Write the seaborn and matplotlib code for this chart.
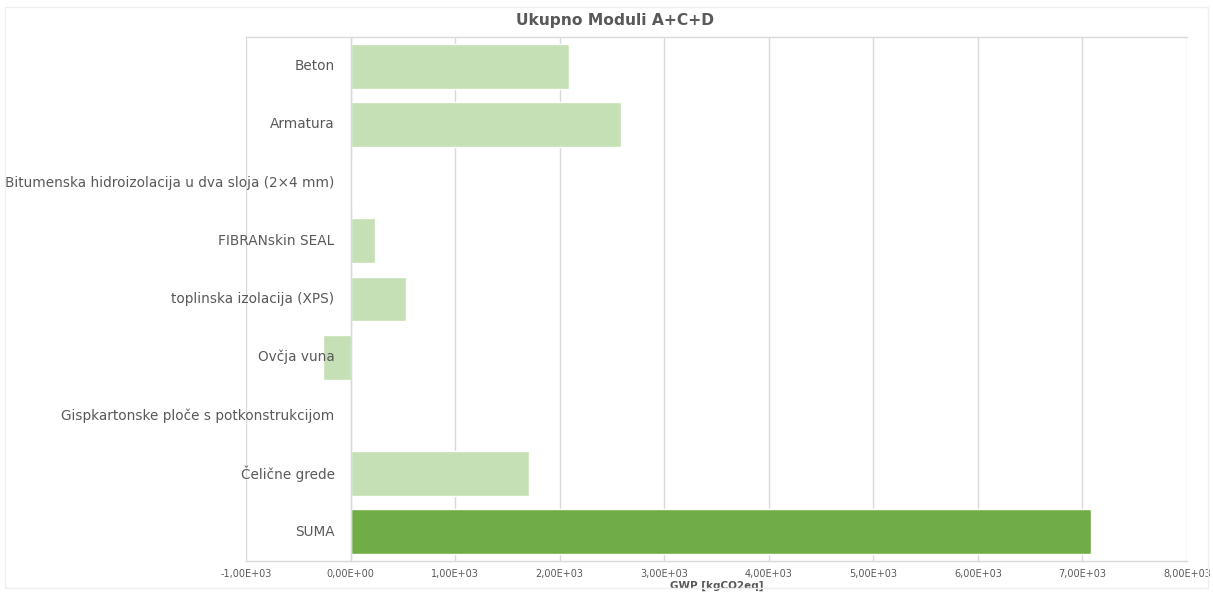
import matplotlib
matplotlib.use("Agg")
import matplotlib.pyplot as plt
import matplotlib.transforms as mtransforms
import seaborn as sns
from matplotlib.patches import Rectangle

# %% data
categories = [
    "Beton",
    "Armatura",
    "Bitumenska hidroizolacija u dva sloja (2×4 mm)",
    "FIBRANskin SEAL",
    "toplinska izolacija (XPS)",
    "Ovčja vuna",
    "Gispkartonske ploče s potkonstrukcijom",
    "Čelične grede",
    "SUMA",
]
gwp = [2094, 2588, 10, 236, 535, -261, 0, 1702, 7081]
bar_colors = ["#C5E0B4"] * 8 + ["#70AD47"]
x_ticks = [-1000, 0, 1000, 2000, 3000, 4000, 5000, 6000, 7000, 8000]
x_tick_labels = [
    "-1,00E+03", "0,00E+00", "1,00E+03", "2,00E+03", "3,00E+03",
    "4,00E+03", "5,00E+03", "6,00E+03", "7,00E+03", "8,00E+03",
]

# %% plot
sns.set_style("white")
plt.rcParams["font.family"] = ["DejaVu Sans"]

text_col = "#595959"
grid_col = "#D9D9D9"

fig = plt.figure(figsize=(12.13, 5.92), dpi=100)
ax = fig.add_axes([246 / 1213, 1 - 561 / 592, (1187 - 246) / 1213, (561 - 37) / 592])

sns.barplot(
    x=gwp,
    y=categories,
    hue=categories,
    palette=bar_colors,
    legend=False,
    width=0.77,
    saturation=1,
    orient="h",
    ax=ax,
)

ax.set_xlim(-1000, 8000)
ax.set_xticks(x_ticks)
ax.set_xticklabels(x_tick_labels)
ax.xaxis.grid(True, color=grid_col, linewidth=1)
ax.yaxis.grid(False)
ax.set_axisbelow(True)

for side in ["top", "bottom"]:
    ax.spines[side].set_color(grid_col)
    ax.spines[side].set_linewidth(1)
ax.spines["right"].set_visible(False)
ax.spines["left"].set_position(("data", 0))
ax.spines["left"].set_color(grid_col)
ax.spines["left"].set_linewidth(1)

# category labels drawn on top of the bars, next to the zero axis
ax.set_yticklabels([])
ax.tick_params(axis="y", length=0)
label_tf = mtransforms.offset_copy(ax.transData, fig=fig, x=-16, y=0, units="dots")
for i, name in enumerate(categories):
    ax.text(0, i, name, transform=label_tf, ha="right", va="center",
            fontsize=9.8, color=text_col, zorder=5, clip_on=False)

ax.tick_params(axis="x", length=0, pad=6, labelsize=7.0, labelcolor=text_col)

ax.set_ylabel("")
ax.set_xlabel("GWP [kgCO2eq]", fontsize=7.5, fontweight="bold", color=text_col, labelpad=1)
fig.text(0.507, 1 - 20 / 592, "Ukupno Moduli A+C+D", ha="center", va="center",
         fontsize=11.2, fontweight="bold", color=text_col)

fig.patches.append(
    Rectangle((0.004, 0.006), 0.992, 0.982, transform=fig.transFigure,
              fill=False, edgecolor="#EEEEEE", linewidth=1)
)

fig.savefig("out.png", dpi=100)
